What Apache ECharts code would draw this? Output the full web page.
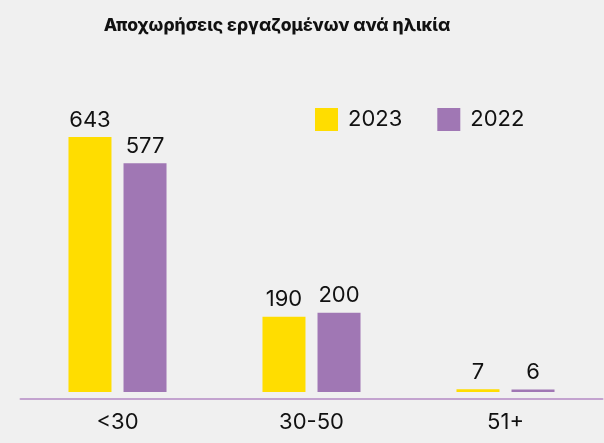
<!DOCTYPE html>
<html>
<head>
<meta charset="utf-8">
<script src="https://cdn.jsdelivr.net/npm/echarts@6/dist/echarts.min.js"></script>
<style>
  html, body { margin: 0; padding: 0; background: #f0f0f0; }
  #chart { width: 604px; height: 443px; }
</style>
</head>
<body>
<div id="chart"></div>
<script>
// age groups
const categories = ['<30', '30-50', '51+']
const seriesNames = ['2023', '2022']
const values2023 = [643, 190, 7]
const values2022 = [577, 200, 6]
const colors = ['#FFDD00', '#A077B4']

const chart = echarts.init(document.getElementById('chart'))
const font = 'Inter, "Noto Sans", sans-serif'

const label = {
  show: true,
  position: 'top',
  distance: 6,
  color: '#111',
  fontSize: 22,
  fontFamily: font,
}

chart.setOption({
  backgroundColor: '#f0f0f0',
  animation: false,
  title: {
    text: 'Αποχωρήσεις εργαζομένων ανά ηλικία',
    left: 272,
    textAlign: 'center',
    top: 12,
    textStyle: { fontSize: 17.5, fontWeight: 800, color: '#111', fontFamily: font },
  },
  legend: {
    data: seriesNames,
    left: 315,
    top: 108,
    padding: 0,
    itemWidth: 23,
    itemHeight: 23,
    itemGap: 35,
    icon: 'rect',
    textStyle: { fontSize: 22, color: '#111', fontFamily: font, padding: [0, 0, 0, 5] },
  },
  grid: { left: 20.5, right: 1.5, top: 74.7, bottom: 51 },
  xAxis: {
    type: 'category',
    data: categories,
    offset: 7,
    axisLine: { onZero: false, lineStyle: { color: '#C3A3CF', width: 2 } },
    axisTick: { show: false },
    axisLabel: { color: '#111', fontSize: 22, margin: 12, fontFamily: font },
  },
  yAxis: {
    type: 'value',
    min: 0,
    max: 800,
    show: false,
    splitLine: { show: false },
  },
  series: [
    {
      name: seriesNames[0],
      type: 'bar',
      data: values2023,
      barWidth: 43,
      barGap: '28%',
      itemStyle: { color: colors[0] },
      label: label,
    },
    {
      name: seriesNames[1],
      type: 'bar',
      data: values2022,
      barWidth: 43,
      itemStyle: { color: colors[1] },
      label: label,
    },
  ],
})
</script>
</body>
</html>
